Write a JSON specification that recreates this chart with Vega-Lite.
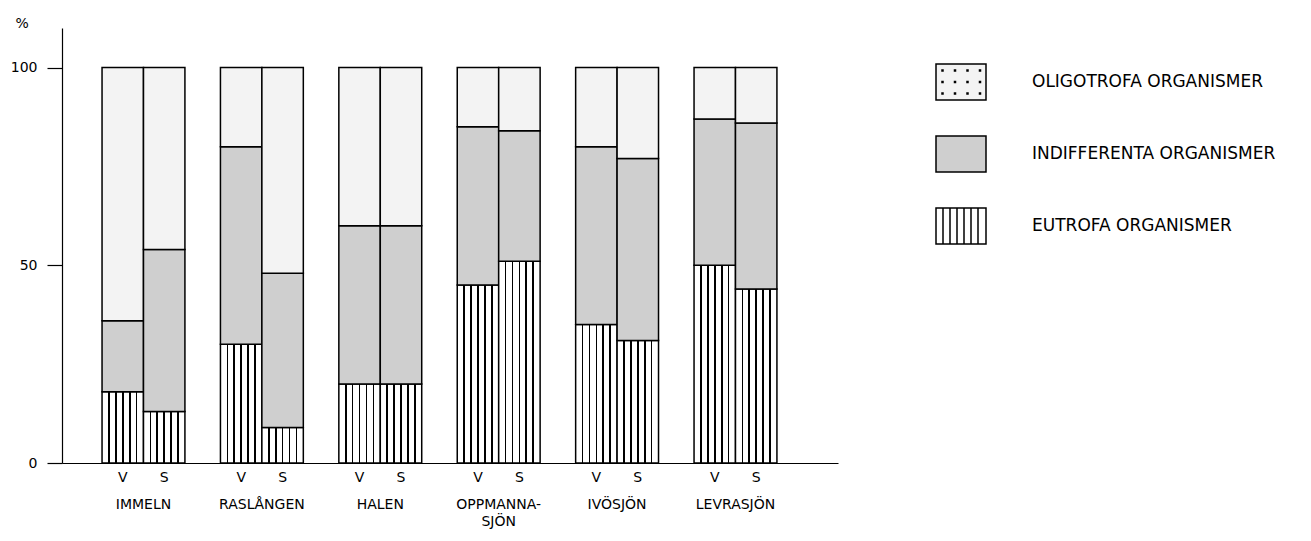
{
  "$schema": "https://vega.github.io/schema/vega-lite/v6.json",
  "width": 776,
  "height": 435,
  "autosize": "none",
  "padding": {"left": 62, "top": 28, "right": 473, "bottom": 78},
  "background": "white",
  "config": {"view": {"stroke": null}, "font": "DejaVu Sans"},
  "data": {
    "values": [
      {"lake": "IMMELN", "season": "V", "group": "EUTROFA ORGANISMER", "value": 18},
      {"lake": "IMMELN", "season": "V", "group": "INDIFFERENTA ORGANISMER", "value": 18},
      {"lake": "IMMELN", "season": "V", "group": "OLIGOTROFA ORGANISMER", "value": 64},
      {"lake": "IMMELN", "season": "S", "group": "EUTROFA ORGANISMER", "value": 13},
      {"lake": "IMMELN", "season": "S", "group": "INDIFFERENTA ORGANISMER", "value": 41},
      {"lake": "IMMELN", "season": "S", "group": "OLIGOTROFA ORGANISMER", "value": 46},
      {"lake": "RASLÅNGEN", "season": "V", "group": "EUTROFA ORGANISMER", "value": 30},
      {"lake": "RASLÅNGEN", "season": "V", "group": "INDIFFERENTA ORGANISMER", "value": 50},
      {"lake": "RASLÅNGEN", "season": "V", "group": "OLIGOTROFA ORGANISMER", "value": 20},
      {"lake": "RASLÅNGEN", "season": "S", "group": "EUTROFA ORGANISMER", "value": 9},
      {"lake": "RASLÅNGEN", "season": "S", "group": "INDIFFERENTA ORGANISMER", "value": 39},
      {"lake": "RASLÅNGEN", "season": "S", "group": "OLIGOTROFA ORGANISMER", "value": 52},
      {"lake": "HALEN", "season": "V", "group": "EUTROFA ORGANISMER", "value": 20},
      {"lake": "HALEN", "season": "V", "group": "INDIFFERENTA ORGANISMER", "value": 40},
      {"lake": "HALEN", "season": "V", "group": "OLIGOTROFA ORGANISMER", "value": 40},
      {"lake": "HALEN", "season": "S", "group": "EUTROFA ORGANISMER", "value": 20},
      {"lake": "HALEN", "season": "S", "group": "INDIFFERENTA ORGANISMER", "value": 40},
      {"lake": "HALEN", "season": "S", "group": "OLIGOTROFA ORGANISMER", "value": 40},
      {"lake": "OPPMANNASJÖN", "season": "V", "group": "EUTROFA ORGANISMER", "value": 45},
      {"lake": "OPPMANNASJÖN", "season": "V", "group": "INDIFFERENTA ORGANISMER", "value": 40},
      {"lake": "OPPMANNASJÖN", "season": "V", "group": "OLIGOTROFA ORGANISMER", "value": 15},
      {"lake": "OPPMANNASJÖN", "season": "S", "group": "EUTROFA ORGANISMER", "value": 51},
      {"lake": "OPPMANNASJÖN", "season": "S", "group": "INDIFFERENTA ORGANISMER", "value": 33},
      {"lake": "OPPMANNASJÖN", "season": "S", "group": "OLIGOTROFA ORGANISMER", "value": 16},
      {"lake": "IVÖSJÖN", "season": "V", "group": "EUTROFA ORGANISMER", "value": 35},
      {"lake": "IVÖSJÖN", "season": "V", "group": "INDIFFERENTA ORGANISMER", "value": 45},
      {"lake": "IVÖSJÖN", "season": "V", "group": "OLIGOTROFA ORGANISMER", "value": 20},
      {"lake": "IVÖSJÖN", "season": "S", "group": "EUTROFA ORGANISMER", "value": 31},
      {"lake": "IVÖSJÖN", "season": "S", "group": "INDIFFERENTA ORGANISMER", "value": 46},
      {"lake": "IVÖSJÖN", "season": "S", "group": "OLIGOTROFA ORGANISMER", "value": 23},
      {"lake": "LEVRASJÖN", "season": "V", "group": "EUTROFA ORGANISMER", "value": 50},
      {"lake": "LEVRASJÖN", "season": "V", "group": "INDIFFERENTA ORGANISMER", "value": 37},
      {"lake": "LEVRASJÖN", "season": "V", "group": "OLIGOTROFA ORGANISMER", "value": 13},
      {"lake": "LEVRASJÖN", "season": "S", "group": "EUTROFA ORGANISMER", "value": 44},
      {"lake": "LEVRASJÖN", "season": "S", "group": "INDIFFERENTA ORGANISMER", "value": 42},
      {"lake": "LEVRASJÖN", "season": "S", "group": "OLIGOTROFA ORGANISMER", "value": 14}
    ]
  },
  "encoding": {
    "x": {
      "field": "lake", "type": "nominal", "sort": null,
      "scale": {"paddingInner": 0.3, "paddingOuter": 0.427, "align": 0.396},
      "axis": {
        "title": null, "domainColor": "black", "domainWidth": 1.2, "ticks": false,
        "labelAngle": 0, "labelPadding": 34, "labelBaseline": "top", "labelFontSize": 14,
        "labelColor": "black", "labelFont": "DejaVu Sans", "labelLineHeight": 17,
        "labelExpr": "datum.value === 'OPPMANNASJÖN' ? ['OPPMANNA-', 'SJÖN'] : datum.label"
      }
    },
    "xOffset": {"field": "season", "type": "nominal", "sort": ["V", "S"], "scale": {"paddingInner": 0, "paddingOuter": 0}}
  },
  "layer": [
    {
      "mark": {"type": "bar", "stroke": "black", "strokeWidth": 1.5, "fillOpacity": 1},
      "encoding": {
        "y": {
          "field": "value", "type": "quantitative", "stack": "zero",
          "scale": {"domain": [0, 110], "nice": false},
          "axis": {
            "values": [0, 50, 100], "grid": false, "domainColor": "black", "domainWidth": 1.2,
            "tickColor": "black", "tickSize": 15, "tickWidth": 1.2, "labelPadding": 10,
            "labelFontSize": 14, "labelColor": "black", "labelFont": "DejaVu Sans",
            "title": "%", "titleAngle": 0, "titleX": -47, "titleY": 2, "titleAlign": "left",
            "titleBaseline": "bottom", "titleFontSize": 14, "titleFontWeight": "normal", "titleColor": "black"
          }
        },
        "order": {"field": "group", "type": "nominal", "sort": "ascending"},
        "fill": {
          "condition": {
            "test": "datum.group === 'EUTROFA ORGANISMER'",
            "value": {
              "gradient": "linear", "x1": 0, "y1": 0, "x2": 1, "y2": 0,
              "stops": [
                {"offset": 0, "color": "white"},
                {"offset": 0.147, "color": "white"}, {"offset": 0.147, "color": "black"},
                {"offset": 0.187, "color": "black"}, {"offset": 0.187, "color": "white"},
                {"offset": 0.313, "color": "white"}, {"offset": 0.313, "color": "black"},
                {"offset": 0.353, "color": "black"}, {"offset": 0.353, "color": "white"},
                {"offset": 0.48, "color": "white"}, {"offset": 0.48, "color": "black"},
                {"offset": 0.52, "color": "black"}, {"offset": 0.52, "color": "white"},
                {"offset": 0.647, "color": "white"}, {"offset": 0.647, "color": "black"},
                {"offset": 0.687, "color": "black"}, {"offset": 0.687, "color": "white"},
                {"offset": 0.813, "color": "white"}, {"offset": 0.813, "color": "black"},
                {"offset": 0.853, "color": "black"}, {"offset": 0.853, "color": "white"},
                {"offset": 1, "color": "white"}
              ]
            }
          },
          "field": "group", "type": "nominal",
          "scale": {
            "domain": ["OLIGOTROFA ORGANISMER", "INDIFFERENTA ORGANISMER", "EUTROFA ORGANISMER"],
            "range": ["#f3f3f3", "#cfcfcf", "#ffffff"]
          },
          "legend": {
            "orient": "none", "legendX": 873, "legendY": 28, "title": null, "padding": 0,
            "symbolSize": 2500,
            "symbolStrokeColor": "black", "symbolStrokeWidth": 1.5, "symbolOpacity": 1,
            "labelFont": "DejaVu Sans", "labelFontSize": 17, "labelColor": "black",
            "labelOffset": 45, "rowPadding": 25, "labelLimit": 0
          }
        }
      }
    },
    {
      "transform": [{"filter": "false"}],
      "mark": {"type": "point", "filled": true, "stroke": "black", "strokeWidth": 1.5, "opacity": 1},
      "encoding": {
        "y": {"field": "value", "type": "quantitative"},
        "fill": {"field": "group", "type": "nominal"},
        "shape": {
          "field": "group", "type": "nominal",
          "scale": {
            "domain": ["OLIGOTROFA ORGANISMER", "INDIFFERENTA ORGANISMER", "EUTROFA ORGANISMER"],
            "range": [
              "M-1,-0.72H1V0.72H-1Z M-0.76,-0.48h0.04v0.04h-0.04Z M-0.26,-0.48h0.04v0.04h-0.04Z M0.24,-0.48h0.04v0.04h-0.04Z M0.74,-0.48h0.04v0.04h-0.04Z M-0.76,-0.02h0.04v0.04h-0.04Z M-0.26,-0.02h0.04v0.04h-0.04Z M0.24,-0.02h0.04v0.04h-0.04Z M0.74,-0.02h0.04v0.04h-0.04Z M-0.76,0.44h0.04v0.04h-0.04Z M-0.26,0.44h0.04v0.04h-0.04Z M0.24,0.44h0.04v0.04h-0.04Z M0.74,0.44h0.04v0.04h-0.04Z",
              "M-1,-0.72H1V0.72H-1Z",
              "M-1,-0.72H1V0.72H-1Z M-0.72,-0.72V0.72 M-0.44,-0.72V0.72 M-0.16,-0.72V0.72 M0.12,-0.72V0.72 M0.4,-0.72V0.72 M0.68,-0.72V0.72"
            ]
          },
          "legend": {
            "orient": "none", "legendX": 873, "legendY": 28, "title": null, "padding": 0,
            "symbolSize": 2500,
            "symbolStrokeColor": "black", "symbolStrokeWidth": 1.5, "symbolOpacity": 1,
            "labelFont": "DejaVu Sans", "labelFontSize": 17, "labelColor": "black",
            "labelOffset": 45, "rowPadding": 25, "labelLimit": 0
          }
        }
      }
    },
    {
      "transform": [{"filter": "datum.group === 'EUTROFA ORGANISMER'"}],
      "mark": {"type": "text", "baseline": "top", "dy": 8, "fontSize": 14, "font": "DejaVu Sans", "color": "black"},
      "encoding": {
        "y": {"datum": 0, "type": "quantitative"},
        "text": {"field": "season"}
      }
    }
  ]
}
